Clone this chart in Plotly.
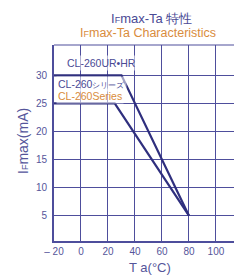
import plotly.graph_objects as go

# Data
ta_series = [-20, 25, 80]
if_series = [25, 25, 5]
ta_urhr = [-20, 30, 80]
if_urhr = [30, 30, 5]
x_ticks = [-20, 0, 20, 40, 60, 80, 100]
x_tick_text = ["– 20", "0", "20", "40", "60", "80", "100"]
y_ticks = [5, 10, 15, 20, 25, 30]

NAVY = "#2f2f7e"
GRID = "#4e4e9c"
TEXT = "#55559a"
ORANGE = "#d98c3c"
FONT = "Liberation Sans, Arial, sans-serif"

fig = go.Figure()
fig.add_trace(go.Scatter(x=ta_series, y=if_series, mode="lines",
                         line=dict(color=NAVY, width=2.2), showlegend=False))
fig.add_trace(go.Scatter(x=ta_urhr, y=if_urhr, mode="lines",
                         line=dict(color=NAVY, width=2.2), showlegend=False))

# page has an 8px body margin, so the figure is sized/offset to compensate
fig.update_layout(
    width=234, height=268,
    margin=dict(l=46, r=0, t=37, b=35, autoexpand=False),
    paper_bgcolor="white", plot_bgcolor="white",
    font=dict(family=FONT, color=TEXT, size=10),
    xaxis=dict(range=[-20, 119.3], tickvals=x_ticks, ticktext=x_tick_text,
               showgrid=True, gridcolor=GRID, gridwidth=1,
               showline=True, linecolor=GRID, linewidth=2,
               zeroline=False, ticks="", tickfont=dict(size=10, color=TEXT),
               automargin=False),
    yaxis=dict(range=[0.5, 35.4], tickvals=y_ticks,
               showgrid=True, gridcolor=GRID, gridwidth=1,
               showline=True, linecolor=GRID, linewidth=2,
               zeroline=False, ticks="", tickfont=dict(size=10, color=TEXT),
               ticklabelstandoff=3, automargin=False),
)

fig.add_shape(type="line", xref="paper", yref="paper", x0=0, x1=1, y0=1, y1=1,
              line=dict(color=GRID, width=1.2))

# Titles
fig.add_annotation(xref="paper", yref="paper", x=(151 - 54) / 188, y=1, yshift=27,
                   yanchor="middle", showarrow=False,
                   text="I<span style='font-size:9px'>F</span>max-Ta 特性",
                   font=dict(size=13, color="#4a4a95"))
fig.add_annotation(xref="paper", yref="paper", x=(148 - 54) / 188, y=1, yshift=12,
                   yanchor="middle", showarrow=False,
                   text="I<span style='font-size:9px'>F</span>max-Ta Characteristics",
                   font=dict(size=12.5, color=ORANGE))

# Axis titles
fig.add_annotation(xref="paper", yref="paper", x=(150 - 54) / 188, y=0, yshift=-26,
                   yanchor="middle", showarrow=False,
                   text="T a(°C)", font=dict(size=13, color=TEXT))
fig.add_annotation(xref="paper", yref="paper", x=0, xshift=-31, y=0.5, yshift=2,
                   xanchor="center", yanchor="middle", showarrow=False, textangle=-90,
                   text="I<span style='font-size:9px'>F</span>max(mA)",
                   font=dict(size=14, color=TEXT))

# Series labels
fig.add_annotation(x=-12, y=32.2, xref="x", yref="y", xanchor="left", showarrow=False,
                   text="CL-260UR•HR", font=dict(size=10.5, color="#4a4a95"),
                   bgcolor="rgba(255,255,255,0.55)")
fig.add_annotation(x=-18.5, y=28.4, xref="x", yref="y", xanchor="left", showarrow=False,
                   text="CL-260<span style='font-size:8px'>シリーズ</span>",
                   font=dict(size=10.5, color="#4a4a95"), bgcolor="rgba(255,255,255,0.55)")
fig.add_annotation(x=-18.5, y=26.3, xref="x", yref="y", xanchor="left", showarrow=False,
                   text="CL-260Series", font=dict(size=10.5, color=ORANGE),
                   bgcolor="rgba(255,255,255,0.55)")

fig.write_html("out.html")
